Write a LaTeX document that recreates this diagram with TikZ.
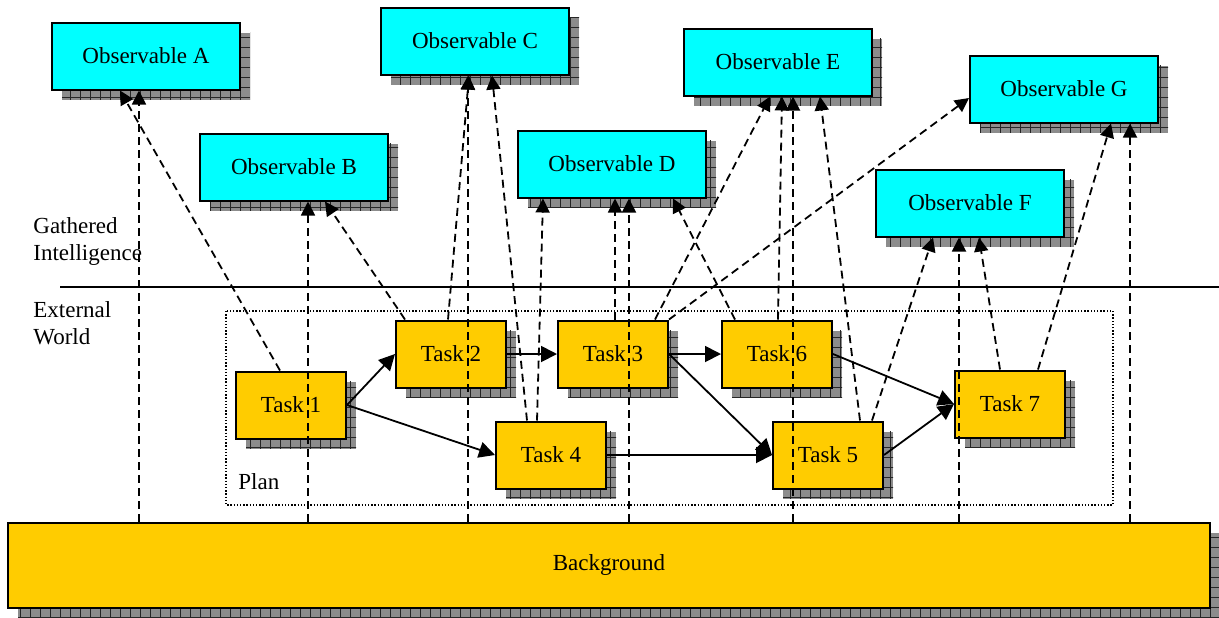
\documentclass[tikz,border=0pt]{standalone}
\usepackage{fontspec}
\setmainfont{Liberation Serif}
\usetikzlibrary{arrows.meta,shadows,patterns.meta}
\definecolor{obscyan}{RGB}{0,255,255}
\definecolor{taskgold}{RGB}{255,204,0}
\tikzset{>={Triangle[length=7pt,width=7pt]}}
\tikzset{
  boxshadow/.style={general shadow={fill=black!45,shadow xshift=5pt,shadow yshift=-5pt},
    general shadow={pattern={Hatch[angle=0,distance=5pt,line width=0.4pt]},pattern color=black!85,shadow xshift=5pt,shadow yshift=-5pt}},
  obsbox/.style={draw,line width=1pt,fill=obscyan,boxshadow,minimum width=94pt,minimum height=33.5pt},
  taskbox/.style={draw,line width=1pt,fill=taskgold,boxshadow,minimum width=55pt,minimum height=33.5pt},
  obsline/.style={->,dash pattern=on 4pt off 2.5pt,line width=0.9pt},
  flow/.style={-{Triangle[length=8pt,width=8pt]},line width=0.9pt},
  lbl/.style={inner sep=0pt,align=left}
}

\begin{document}
\begin{tikzpicture}[x=0.5pt,y=-0.5pt,font=\fontsize{11.5}{13.5}\selectfont]
    \useasboundingbox (0,0) rectangle (1219,617);
    % layers: world below the line, intelligence above
    \draw[line width=0.9pt] (60,287) -- (1219,287);
    \node[lbl,anchor=north west] (gathered) at (33,217) {Gathered\\Intelligence};
    \node[lbl,anchor=north west] (external) at (33,301) {External\\World};
    \draw[line width=0.7pt,dash pattern=on 0.7pt off 0.9pt] (226,311) rectangle (1113,505);
    \node[lbl,anchor=base west] (plan) at (238,489) {Plan};

    \node[obsbox] (obsA) at (146,56) {Observable A};
    \node[obsbox] (obsB) at (294,167) {Observable B};
    \node[obsbox] (obsC) at (475,41) {Observable C};
    \node[obsbox] (obsD) at (612,164) {Observable D};
    \node[obsbox] (obsE) at (778,62) {Observable E};
    \node[obsbox] (obsF) at (970,203) {Observable F};
    \node[obsbox] (obsG) at (1064,89) {Observable G};

    \node[taskbox] (t1) at (291,405) {Task 1};
    \node[taskbox] (t2) at (451,354) {Task 2};
    \node[taskbox] (t3) at (613,354) {Task 3};
    \node[taskbox] (t4) at (551,455) {Task 4};
    \node[taskbox] (t5) at (828,455) {Task 5};
    \node[taskbox] (t6) at (777,354) {Task 6};
    \node[taskbox] (t7) at (1010,404) {Task 7};

    \node[taskbox,minimum width=601pt,minimum height=42.5pt] (bg) at (609,565) {Background};

    % plan order
    \draw[flow] (t1.east) -- (t2.west);
    \draw[flow] (t1.east) -- (t4.west);
    \draw[flow] (t2.east) -- (t3.west);
    \draw[flow] (t3.east) -- (t6.west);
    \draw[flow] (t3.east) -- (t5.west);
    \draw[flow] (t4.east) -- (t5.west);
    \draw[flow] (t6.east) -- (t7.west);
    \draw[flow] (t5.east) -- (t7.west);

    % what each task leaves behind
    \draw[obsline] ([xshift=-5.5pt]t1.north) -- ([xshift=-13pt]obsA.south);
    \draw[obsline] ([xshift=-23pt]t2.north) -- ([xshift=15.5pt]obsB.south);
    \draw[obsline] ([xshift=-1.5pt]t2.north) -- ([xshift=-3pt]obsC.south);
    \draw[obsline] ([xshift=-12pt]t4.north) -- ([xshift=8.5pt]obsC.south);
    \draw[obsline] ([xshift=-7pt]t4.north) -- ([xshift=-34.5pt]obsD.south);
    \draw[obsline] ([xshift=1pt]t3.north) -- ([xshift=1.5pt]obsD.south);
    \draw[obsline] ([xshift=21pt]t3.north) -- ([xshift=-4pt]obsE.south);
    \draw[obsline] (t3.north east) -- ([yshift=-4.5pt]obsG.west);
    \draw[obsline] ([xshift=-21pt]t6.north) -- ([xshift=30.5pt]obsD.south);
    \draw[obsline] ([xshift=0.5pt]t6.north) -- ([xshift=2pt]obsE.south);
    \draw[obsline] ([xshift=16pt]t5.north) -- ([xshift=21pt]obsE.south);
    \draw[obsline] ([xshift=22pt]t5.north) -- ([xshift=-18.5pt]obsF.south);
    \draw[obsline] ([xshift=-5pt]t7.north) -- ([xshift=4.5pt]obsF.south);
    \draw[obsline] ([xshift=14pt]t7.north) -- ([xshift=23.5pt]obsG.south);

    % background shows through to every observable
    \foreach \o/\dx in {obsA/-3.5,obsB/7,obsC/-3.5,obsD/8.5,obsE/7.5,obsF/-5.5,obsG/33} {
        \coordinate (tip) at ([xshift=\dx pt]\o.south);
        \draw[obsline] (tip |- bg.north) -- (tip);
    }
\end{tikzpicture}
\end{document}
